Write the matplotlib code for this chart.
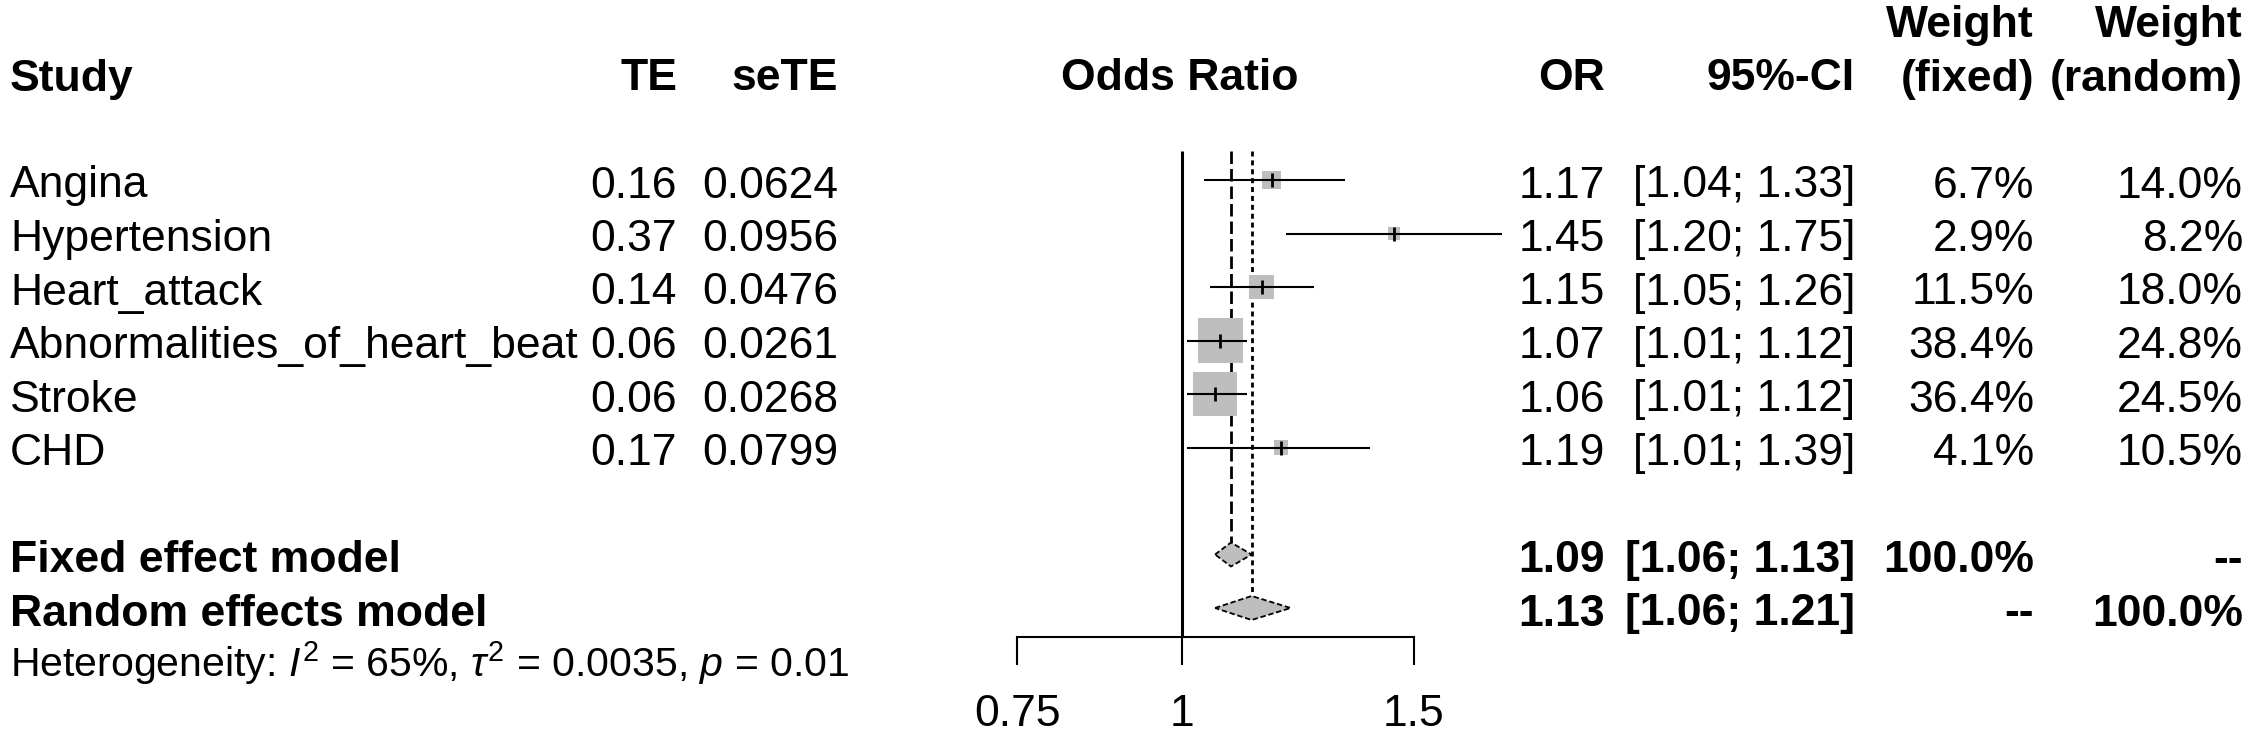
import matplotlib.pyplot as plt
import matplotlib.transforms as mtransforms
from matplotlib.ticker import FixedLocator, FixedFormatter, NullLocator
import numpy as np

# study level data
studies = ['Angina', 'Hypertension', 'Heart_attack', 'Abnormalities_of_heart_beat', 'Stroke', 'CHD']
te = [0.16, 0.37, 0.14, 0.06, 0.06, 0.17]
se_te = [0.0624, 0.0956, 0.0476, 0.0261, 0.0268, 0.0799]
odds = [1.17, 1.45, 1.15, 1.07, 1.06, 1.19]
ci_low = [1.04, 1.20, 1.05, 1.01, 1.01, 1.01]
ci_up = [1.33, 1.75, 1.26, 1.12, 1.12, 1.39]
w_fixed = [6.7, 2.9, 11.5, 38.4, 36.4, 4.1]
w_random = [14.0, 8.2, 18.0, 24.8, 24.5, 10.5]

# pooled estimates
fixed_est = [1.09, 1.06, 1.13]
random_est = [1.13, 1.06, 1.21]
het_i2, het_tau2, het_p = 65, 0.0035, 0.01

axis_ticks = [0.75, 1, 1.5]
axis_labels = ['0.75', '1', '1.5']

W, H = 2257, 741
plt.rcParams['font.family'] = ['Liberation Sans', 'DejaVu Sans']
plt.rcParams['mathtext.fontset'] = 'custom'
plt.rcParams['mathtext.rm'] = 'Liberation Sans'
plt.rcParams['mathtext.it'] = 'Liberation Sans:italic'

FS = 32        # main text size
FS_HET = 29.5  # heterogeneity line
GREY = '#BEBEBE'

fig = plt.figure(figsize=(W/100, H/100), dpi=100)
X0, X1 = 1000, 1520          # pixel span of the forest panel
ONE_PX, PX_PER_LOG = 1181.7, 572
ax = fig.add_axes([X0/W, 0, (X1-X0)/W, 1])
ax.set_xscale('log')
ax.set_xlim(np.exp((X0-ONE_PX)/PX_PER_LOG), np.exp((X1-ONE_PX)/PX_PER_LOG))
ax.set_ylim(H, 0)            # y in pixels from top

ROW0, ROW_H = 180, 53.5
y_rows = ROW0 + ROW_H*np.arange(len(studies))
y_fixed = ROW0 + ROW_H*7
y_random = ROW0 + ROW_H*8
LINE_TOP = 151
AXIS_Y = 637
DIA_H = 12

# squares, CI lines and point ticks
sizes = (7.2*np.sqrt(w_fixed)*0.72)**2
ax.scatter(odds, y_rows, s=sizes, marker='s', color=GREY, lw=0, zorder=2)
ax.hlines(y_rows, ci_low, ci_up, color='black', lw=1.5, zorder=3)
ax.vlines(odds, y_rows-7, y_rows+7, color='black', lw=2.0, zorder=3)

# reference line and pooled lines
ax.vlines(1, LINE_TOP, AXIS_Y, color='black', lw=2.2, zorder=3)
ax.vlines(fixed_est[0], LINE_TOP, y_fixed-DIA_H, color='black', lw=2.0,
          linestyles=(0, (4.5, 1.8)), zorder=1)
ax.vlines(random_est[0], LINE_TOP, y_random-DIA_H, color='black', lw=2.0,
          linestyles=(0, (1.8, 1.4)), zorder=1)

# diamonds
for est, y in [(fixed_est, y_fixed), (random_est, y_random)]:
    ax.fill([est[1], est[0], est[2], est[0], est[1]],
            [y, y-DIA_H, y, y+DIA_H, y],
            facecolor=GREY, edgecolor='black', lw=1.3, linestyle=(0, (3, 1.5)), zorder=3)

# x axis
for s in ['top', 'left', 'right']:
    ax.spines[s].set_visible(False)
ax.spines['bottom'].set_position(('data', AXIS_Y))
ax.spines['bottom'].set_bounds(0.75, 1.5)
ax.spines['bottom'].set_linewidth(1.5)
ax.xaxis.set_major_locator(FixedLocator(axis_ticks))
ax.xaxis.set_major_formatter(FixedFormatter(axis_labels))
ax.xaxis.set_minor_locator(NullLocator())
ax.tick_params(axis='x', direction='out', length=20, width=1.5, pad=21, labelsize=FS)
ax.set_yticks([])
ax.patch.set_alpha(0)

# text columns
trans = mtransforms.blended_transform_factory(fig.transFigure, ax.transData)
BASE = 17.5


def put(xpx, y, s, ha='left', bold=False, size=FS):
    ax.text(xpx/W, y, s, transform=trans, ha=ha, va='baseline',
            fontsize=size, fontweight='bold' if bold else 'normal')


X_STUDY, X_TE, X_SE, X_OR_HEAD = 10, 677, 838, 1180
X_OR, X_CI, X_WF, X_WR = 1605, 1855, 2034, 2243
HEAD_Y, HEAD_Y1 = 90.5, 37

put(X_STUDY, HEAD_Y, 'Study', bold=True)
put(X_TE, HEAD_Y, 'TE', ha='right', bold=True)
put(X_SE, HEAD_Y, 'seTE', ha='right', bold=True)
put(X_OR_HEAD, HEAD_Y, 'Odds Ratio', ha='center', bold=True)
put(X_OR, HEAD_Y, 'OR', ha='right', bold=True)
put(X_CI, HEAD_Y, '95%-CI', ha='right', bold=True)
put(X_WF, HEAD_Y1, 'Weight', ha='right', bold=True)
put(X_WF, HEAD_Y, '(fixed)', ha='right', bold=True)
put(X_WR, HEAD_Y1, 'Weight', ha='right', bold=True)
put(X_WR, HEAD_Y, '(random)', ha='right', bold=True)

for i, name in enumerate(studies):
    y = y_rows[i] + BASE
    put(X_STUDY, y, name)
    put(X_TE, y, f'{te[i]:.2f}', ha='right')
    put(X_SE, y, f'{se_te[i]:.4f}', ha='right')
    put(X_OR, y, f'{odds[i]:.2f}', ha='right')
    put(X_CI, y, f'[{ci_low[i]:.2f}; {ci_up[i]:.2f}]', ha='right')
    put(X_WF, y, f'{w_fixed[i]:.1f}%', ha='right')
    put(X_WR, y, f'{w_random[i]:.1f}%', ha='right')

y = y_fixed + BASE
put(X_STUDY, y, 'Fixed effect model', bold=True)
put(X_OR, y, f'{fixed_est[0]:.2f}', ha='right', bold=True)
put(X_CI, y, f'[{fixed_est[1]:.2f}; {fixed_est[2]:.2f}]', ha='right', bold=True)
put(X_WF, y, f'{sum(w_fixed):.1f}%', ha='right', bold=True)
put(X_WR, y, '--', ha='right', bold=True)

y = y_random + BASE
put(X_STUDY, y, 'Random effects model', bold=True)
put(X_OR, y, f'{random_est[0]:.2f}', ha='right', bold=True)
put(X_CI, y, f'[{random_est[1]:.2f}; {random_est[2]:.2f}]', ha='right', bold=True)
put(X_WF, y, '--', ha='right', bold=True)
put(X_WR, y, f'{sum(w_random):.1f}%', ha='right', bold=True)

het = (r'Heterogeneity: $\mathit{I}^{2}$ = ' + f'{het_i2}%, ' + r'$\tau^{2}$ = '
       + f'{het_tau2}, ' + r'$\mathit{p}$ = ' + f'{het_p}')
put(X_STUDY, ROW0 + ROW_H*9 + 15.5, het, size=FS_HET)

fig.savefig('out.png', dpi=100)
